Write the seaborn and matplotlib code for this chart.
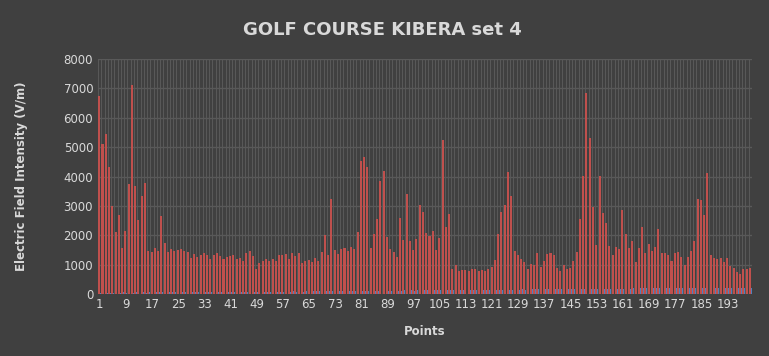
import numpy as np
import pandas as pd
import seaborn as sns
import matplotlib.pyplot as plt

# measured field values, points 1..200
red_vals = [
    6750, 5100, 5460, 4320, 3000, 2100, 2700, 1550, 2130, 3760,
    7110, 3670, 2510, 3330, 3790, 1450, 1430, 1550, 1450, 2650,
    1750, 1430, 1520, 1470, 1500, 1520, 1460, 1430, 1240, 1360,
    1260, 1340, 1380, 1340, 1190, 1330, 1400, 1300, 1200, 1260,
    1280, 1340, 1200, 1240, 1120, 1390, 1460, 1310, 860, 1040,
    1120, 1180, 1120, 1180, 1110, 1330, 1320, 1360, 1180, 1380,
    1290, 1380, 1070, 1110, 1160, 1090, 1220, 1110, 1440, 2020,
    1320, 3250, 1500, 1360, 1520, 1560, 1460, 1590, 1540, 2120,
    4520, 4680, 4320, 1560, 2040, 2540, 3840, 4180, 1950, 1520,
    1430, 1260, 2590, 1850, 3390, 1810, 1500, 1870, 3030, 2780,
    2060, 1970, 2140, 1500, 1900, 5240, 2270, 2730, 840, 990,
    780, 810, 810, 780, 850, 840, 780, 810, 790, 850,
    930, 1170, 2040, 2790, 3030, 4160, 3350, 1460, 1320, 1180,
    1080, 850, 1010, 990, 1390, 910, 1110, 1360, 1390, 1320,
    880, 800, 990, 850, 870, 1120, 1440, 2550, 4030, 6840,
    5300, 2960, 1670, 4010, 2760, 2420, 1630, 1330, 1610, 1520,
    2860, 2030, 1550, 1800, 1100, 1580, 2290, 1400, 1690, 1460,
    1590, 2200, 1380, 1380, 1330, 1120, 1390, 1430, 1260, 990,
    1260, 1460, 1790, 3220, 3190, 2690, 4130, 1330, 1230, 1190,
    1220, 1090, 1210, 950, 900, 750, 680, 860, 840, 880,
]
blue_vals = [
    40, 45, 42, 50, 44, 48, 45, 52, 47, 50,
    46, 52, 49, 55, 50, 53, 48, 56, 52, 55,
    54, 58, 52, 60, 56, 58, 55, 62, 58, 60,
    57, 63, 60, 64, 58, 65, 62, 66, 60, 68,
    64, 66, 70, 65, 72, 68, 70, 74, 70, 76,
    72, 78, 75, 80, 76, 82, 78, 84, 80, 86,
    82, 88, 85, 90, 86, 92, 88, 94, 90, 95,
    92, 98, 94, 100, 96, 102, 98, 104, 100, 106,
    102, 108, 104, 110, 106, 112, 108, 114, 110, 115,
    112, 118, 114, 120, 116, 122, 118, 124, 120, 126,
    122, 128, 124, 130, 126, 132, 128, 134, 130, 136,
    132, 138, 134, 140, 136, 142, 138, 144, 140, 146,
    142, 148, 144, 150, 146, 152, 148, 154, 150, 155,
    152, 158, 154, 160, 156, 162, 158, 164, 160, 166,
    162, 168, 164, 170, 166, 172, 168, 174, 170, 176,
    172, 178, 174, 180, 176, 182, 178, 184, 180, 186,
    182, 188, 184, 190, 186, 192, 188, 194, 190, 195,
    192, 196, 190, 198, 194, 196, 192, 198, 195, 200,
    196, 198, 194, 200, 196, 198, 195, 200, 197, 199,
    196, 200, 198, 196, 199, 197, 200, 198, 196, 200,
]
points = np.arange(1, 201)

bg = "#404040"
txt = "#d9d9d9"
grid_c = "#595959"

fig = plt.figure(figsize=(7.69, 3.56), dpi=100, facecolor=bg)
ax = fig.add_axes([98 / 769, 1 - 294 / 356, (752 - 98) / 769, (294 - 59) / 356])
ax.set_facecolor(bg)
ax.set_axisbelow(True)

# two series side by side inside each point slot
sns.barplot(x=points - 0.12, y=red_vals, native_scale=True, width=0.62,
            color="#c0504d", saturation=1, ax=ax, zorder=3, linewidth=0)
sns.barplot(x=points + 0.31, y=blue_vals, native_scale=True, width=0.22,
            color="#4f81bd", saturation=1, ax=ax, zorder=3, linewidth=0)

ax.set_xlim(0.5, 200.5)
ax.set_ylim(0, 8000)
ax.set_yticks(range(0, 8001, 1000))
ax.set_xticks(points[::8])
ax.set_xticklabels([str(p) for p in points[::8]])
ax.set_xticks(np.arange(0.5, 201, 1), minor=True)

ax.grid(axis="y", which="major", color=grid_c, linewidth=1)
ax.grid(axis="x", which="minor", color=grid_c, linewidth=0.7)
ax.grid(axis="x", which="major", visible=False)

for s in ax.spines.values():
    s.set_visible(False)
ax.tick_params(axis="both", which="both", length=0, colors=txt, labelsize=8.5)
ax.tick_params(axis="x", pad=3)

ax.set_xlabel("Points", color=txt, fontsize=8.5, fontweight="bold", labelpad=10)
ax.set_ylabel("Electric Field Intensity (V/m)", color=txt, fontsize=8.5,
              fontweight="bold")
ax.yaxis.set_label_coords(-0.107, 0.5)

fig.suptitle("GOLF COURSE KIBERA set 4", color=txt, fontsize=13,
             fontweight="bold", x=0.497, y=0.94)

fig.savefig("out.png", dpi=100, facecolor=bg)
